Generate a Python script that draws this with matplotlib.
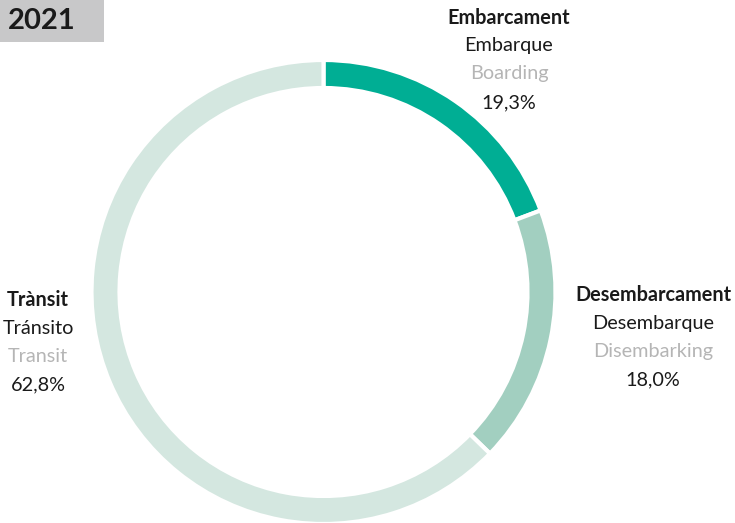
import matplotlib.pyplot as plt
from matplotlib.patches import Rectangle

# --- data ---
year = "2021"
labels_ca = ["Embarcament", "Desembarcament", "Trànsit"]
labels_es = ["Embarque", "Desembarque", "Tránsito"]
labels_en = ["Boarding", "Disembarking", "Transit"]
shares = [19.3, 18.0, 62.8]
colors = ["#00AE94", "#A2CFC0", "#D4E7E0"]

plt.rcParams['font.family'] = ['Lato', 'DejaVu Sans']

W, H = 735, 523
fig = plt.figure(figsize=(W / 100, H / 100), dpi=100)
ax = fig.add_axes([0, 0, 1, 1])

cx, cy, r = 323.5, H - 292, 232
ax.pie(shares, colors=colors, startangle=90, counterclock=False,
       center=(cx, cy), radius=r, frame=True,
       wedgeprops=dict(width=28, edgecolor='white', linewidth=3))
ax.set_xlim(0, W)
ax.set_ylim(0, H)
ax.set_aspect('equal')
ax.axis('off')

# year box
ax.add_patch(Rectangle((0, H - 42), 104, 42, color='#C8C8C9', lw=0))
ax.text(42, H - 21, year, fontsize=21, fontweight='bold', color='#1a1a1a',
        ha='center', va='center')

# labels: (x center, y top line) in pixel coords from top
label_pos = [(509, 18), (653, 295), (38, 300)]
fs = 14.3
for i, (x, y) in enumerate(label_pos):
    ax.text(x, H - y, labels_ca[i], fontsize=fs, fontweight='bold',
            color='#1a1a1a', ha='center', va='center')
    ax.text(x, H - y - 28, labels_es[i], fontsize=fs, color='#1a1a1a',
            ha='center', va='center')
    ax.text(x, H - y - 56, labels_en[i], fontsize=fs, color='#B5B5B5',
            ha='center', va='center')
    ax.text(x, H - y - 85, f"{shares[i]:.1f}%".replace('.', ','), fontsize=fs,
            color='#1a1a1a', ha='center', va='center')

fig.savefig('out.png', dpi=100)
